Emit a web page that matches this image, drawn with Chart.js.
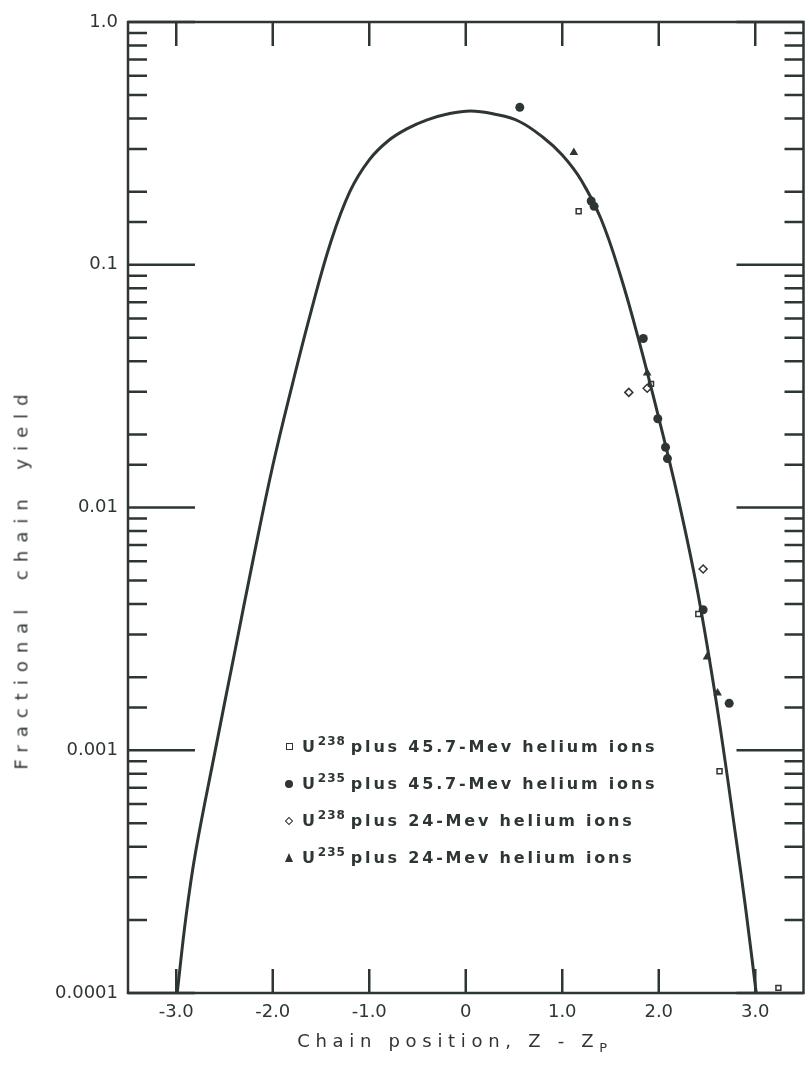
<!DOCTYPE html>
<html>
<head>
<meta charset="utf-8">
<script src="https://cdn.jsdelivr.net/npm/chart.js@4"></script>
<style>
  html, body { margin: 0; padding: 0; background: #fff; }
  #wrap { position: relative; width: 809px; height: 1079px; overflow: hidden; }
  #chart { position: absolute; left: 0; top: 0; }
  .ink { color: #2e3633; font-family: "DejaVu Sans", sans-serif; }
  #ytitle { position: absolute; left: 21px; top: 578px; transform: translate(-50%, -50%) rotate(-90deg);
            white-space: nowrap; font-size: 18px; letter-spacing: 8px; word-spacing: 8px; }
  #xtitle { position: absolute; left: 455px; top: 1040px; transform: translate(-50%, -50%);
            white-space: nowrap; font-size: 18px; letter-spacing: 5.7px; }
  #xtitle sub { font-size: 13px; vertical-align: -5px; line-height: 0; }
  #legend { position: absolute; left: 283px; top: 728px; font-size: 16px; font-weight: bold; letter-spacing: 2.8px; }
  #legend .row { height: 37px; display: flex; align-items: center; white-space: nowrap; }
  #legend sup { font-size: 12px; vertical-align: 7px; line-height: 0; letter-spacing: 1px; margin-right: 5px; }
  .mk { display: inline-block; box-sizing: border-box; margin: 0 7px 0 2px; }
  .mk.sq { width: 7px; height: 7px; border: 1.5px solid #2e3633; margin-left: 2.5px; margin-right: 9.5px; }
  .mk.dot { width: 8px; height: 8px; border-radius: 50%; background: #2e3633; margin-left: 2px; margin-right: 9px; }
  .mk.dia { width: 6px; height: 6px; border: 1.5px solid #2e3633; transform: rotate(45deg); margin-left: 3px; margin-right: 10px; }
  .mk.tri { width: 0; height: 0; border-left: 4px solid transparent; border-right: 4px solid transparent;
            border-bottom: 9px solid #2e3633; margin-left: 2px; margin-right: 9px; }
</style>
</head>
<body>
<div id="wrap">
  <canvas id="chart" width="809" height="1079"></canvas>
  <div id="ytitle" class="ink">Fractional chain yield</div>
  <div id="xtitle" class="ink">Chain position, Z - Z<sub>P</sub></div>
  <div id="legend" class="ink"></div>
</div>
<script>
// smooth curve
const curveX = [-2.99, -2.9, -2.8, -2.6, -2.4, -2.2, -2.0, -1.8, -1.6, -1.4, -1.2, -1.0, -0.8, -0.6, -0.4,
  -0.2, 0.05, 0.3, 0.55, 0.8, 1.0, 1.2, 1.4, 1.6, 1.8, 2.0, 2.2, 2.4, 2.6, 2.8, 2.9, 3.01];
const curveY = [0.0001, 0.000205, 0.00038, 0.00098, 0.00247, 0.0062, 0.01486, 0.0318, 0.0649, 0.1236,
  0.2004, 0.2704, 0.325, 0.3648, 0.3954, 0.417, 0.43, 0.417, 0.39, 0.335, 0.283, 0.222, 0.155, 0.0912,
  0.0478, 0.0234, 0.01094, 0.00456, 0.001545, 0.000436, 0.000224, 0.0001];

// measured points
const u238FastX = [1.17, 1.92, 2.41, 2.63, 3.24];
const u238FastY = [0.166, 0.0323, 0.00364, 0.00082, 0.000105];
const u235FastX = [0.56, 1.30, 1.33, 1.84, 1.99, 2.07, 2.09, 2.46, 2.73];
const u235FastY = [0.445, 0.183, 0.174, 0.0497, 0.0232, 0.0177, 0.0159, 0.00379, 0.00156];
const u238SlowX = [1.69, 1.88, 2.46];
const u238SlowY = [0.0298, 0.031, 0.00558];
const u235SlowX = [1.12, 1.88, 2.50, 2.61];
const u235SlowY = [0.29, 0.0358, 0.00242, 0.00172];

const seriesIsotopes = ['238', '235', '238', '235'];
const seriesEnergies = ['45.7', '45.7', '24', '24'];

const xTickValues = [-3, -2, -1, 0, 1, 2, 3];
const xTickLabels = ['-3.0', '-2.0', '-1.0', '0', '1.0', '2.0', '3.0'];
const yTickValues = [0.0001, 0.001, 0.01, 0.1, 1];
const yTickLabels = ['0.0001', '0.001', '0.01', '0.1', '1.0'];

const ink = '#2e3633';
const toPts = (xs, ys) => xs.map((x, i) => ({ x: x, y: ys[i] }));
const label = i => 'U' + seriesIsotopes[i] + ' plus ' + seriesEnergies[i] + '-Mev helium ions';

// html legend (needs superscripts)
const legendMarks = ['sq', 'dot', 'dia', 'tri'];
document.getElementById('legend').innerHTML = seriesIsotopes.map((iso, i) =>
  '<div class="row"><span class="mk ' + legendMarks[i] + '"></span><span>U<sup>' + iso + '</sup>plus ' +
  seriesEnergies[i] + '-Mev helium ions</span></div>').join('');

// border + inward tick marks
const frame = {
  id: 'frame',
  beforeDatasetsDraw(chart) {
    const { ctx, chartArea: a, scales: { x, y } } = chart;
    ctx.save();
    ctx.strokeStyle = ink;
    ctx.lineWidth = 2.5;
    ctx.strokeRect(a.left, a.top, a.right - a.left, a.bottom - a.top);
    ctx.beginPath();
    y.ticks.forEach(t => {
      const p = y.getPixelForValue(t.value);
      const lg = Math.log10(t.value);
      const len = Math.abs(lg - Math.round(lg)) < 1e-6 ? 67 : 19;
      ctx.moveTo(a.left, p); ctx.lineTo(a.left + len, p);
      ctx.moveTo(a.right, p); ctx.lineTo(a.right - len, p);
    });
    x.ticks.forEach(t => {
      const p = x.getPixelForValue(t.value);
      ctx.moveTo(p, a.bottom); ctx.lineTo(p, a.bottom - 24);
      ctx.moveTo(p, a.top); ctx.lineTo(p, a.top + 24);
    });
    ctx.stroke();
    ctx.restore();
  }
};

new Chart(document.getElementById('chart'), {
  type: 'scatter',
  data: {
    datasets: [{
      label: 'curve',
      data: toPts(curveX, curveY),
      showLine: true,
      borderColor: ink,
      borderWidth: 3,
      pointRadius: 0,
      tension: 0.4
    }, {
      label: label(0),
      data: toPts(u238FastX, u238FastY),
      pointStyle: 'rect',
      pointRadius: 3.5,
      backgroundColor: '#fff',
      borderColor: ink,
      borderWidth: 1.5,
      clip: false
    }, {
      label: label(1),
      data: toPts(u235FastX, u235FastY),
      pointStyle: 'circle',
      pointRadius: 4.5,
      backgroundColor: ink,
      borderColor: ink,
      borderWidth: 0,
      clip: false
    }, {
      label: label(2),
      data: toPts(u238SlowX, u238SlowY),
      pointStyle: 'rectRot',
      pointRadius: 4,
      backgroundColor: '#fff',
      borderColor: ink,
      borderWidth: 1.5,
      clip: false
    }, {
      label: label(3),
      data: toPts(u235SlowX, u235SlowY),
      pointStyle: 'triangle',
      pointRadius: 5,
      backgroundColor: ink,
      borderColor: ink,
      borderWidth: 0,
      clip: false
    }]
  },
  options: {
    responsive: false,
    animation: false,
    layout: { padding: { top: 22, right: 2, left: 0, bottom: 0 } },
    plugins: {
      legend: { display: false },
      tooltip: { enabled: false }
    },
    scales: {
      x: {
        type: 'linear',
        min: -3.5,
        max: 3.5,
        afterBuildTicks: s => { s.ticks = xTickValues.map(v => ({ value: v })); },
        afterFit: s => { s.height = 86; },
        grid: { display: false, drawTicks: false },
        border: { display: false },
        ticks: {
          padding: 9,
          color: ink,
          font: { family: 'DejaVu Sans', size: 18 },
          callback: v => xTickLabels[xTickValues.indexOf(v)]
        }
      },
      y: {
        type: 'logarithmic',
        min: 0.0001,
        max: 1,
        afterFit: s => { s.width = 128; },
        grid: { display: false, drawTicks: false },
        border: { display: false },
        ticks: {
          autoSkip: false,
          padding: 10,
          color: ink,
          font: { family: 'DejaVu Sans', size: 18 },
          callback: v => {
            const i = yTickValues.findIndex(t => Math.abs(t - v) / t < 1e-6);
            return i >= 0 ? yTickLabels[i] : '';
          }
        }
      }
    }
  },
  plugins: [frame]
});
</script>
</body>
</html>
